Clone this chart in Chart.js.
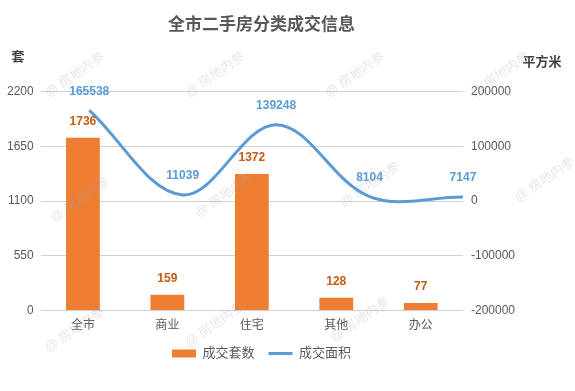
<!DOCTYPE html>
<html>
<head>
<meta charset="utf-8">
<script src="https://cdn.jsdelivr.net/npm/chart.js@4"></script>
<style>
  html, body { margin: 0; padding: 0; background: #fff; }
  #wrap { width: 575px; height: 391px; position: relative; }
</style>
</head>
<body>
<div id="wrap"><canvas id="myChart" width="575" height="391"></canvas></div>
<script>
// data
const categories = ['全市', '商业', '住宅', '其他', '办公'];
const unitsSold = [1736, 159, 1372, 128, 77];        // 成交套数 (套)
const areaSold = [165538, 11039, 139248, 8104, 7147]; // 成交面积 (平方米)
const leftTicks = [0, 550, 1100, 1650, 2200];
const rightTicks = [-200000, -100000, 0, 100000, 200000];

const ORANGE = '#ED7D31';
const BLUE = '#5B9BD5';
const GREY = '#595959';
const FONT = '"Liberation Sans", "Noto Sans CJK SC", sans-serif';

// labels above bars / points, axis unit titles, watermark
const extras = {
  id: 'extras',
  afterDatasetsDraw(chart) {
    const c = chart.ctx;
    c.save();
    c.textAlign = 'center';
    c.textBaseline = 'middle';
    c.font = 'bold 12px ' + FONT;
    c.fillStyle = '#C55A11';
    chart.getDatasetMeta(0).data.forEach((bar, i) => {
      c.fillText(String(unitsSold[i]), bar.x, bar.y - 16);
    });
    c.fillStyle = BLUE;
    chart.getDatasetMeta(1).data.forEach((pt, i) => {
      c.fillText(String(areaSold[i]), pt.x, pt.y - 19);
    });
    c.restore();
  },
  afterDraw(chart) {
    const c = chart.ctx;
    c.save();
    c.fillStyle = '#404040';
    c.font = 'bold 13px ' + FONT;
    c.textBaseline = 'middle';
    c.textAlign = 'center';
    c.fillText('套', 18, 57);
    c.fillText('平方米', 542, 62);

    // faint watermark
    c.font = '13px ' + FONT;
    c.fillStyle = 'rgba(170,170,170,0.3)';
    const marks = [[75, 75], [215, 75], [355, 75], [500, 75],
                   [80, 200], [225, 195], [370, 185], [545, 180],
                   [75, 330], [215, 325], [360, 320]];
    marks.forEach(([x, y]) => {
      c.save();
      c.translate(x, y);
      c.rotate(-0.6);
      c.fillText('@ 房地内参', 0, 0);
      c.restore();
    });
    c.restore();
  }
};

const ctx = document.getElementById('myChart').getContext('2d');

const chart = new Chart(ctx, {
  data: {
    labels: categories,
    datasets: [
      {
        type: 'bar',
        label: '成交套数',
        data: unitsSold,
        backgroundColor: ORANGE,
        xAxisID: 'x',
        yAxisID: 'y',
        grouped: false,
        categoryPercentage: 0.8,
        barPercentage: 0.5,
        order: 1
      },
      {
        type: 'line',
        label: '成交面积',
        // line sits on its own (hidden) horizontal axis, points on the ticks
        data: areaSold.map((v, i) => ({ x: i, y: v })),
        borderColor: BLUE,
        borderWidth: 3,
        pointRadius: 0,
        tension: 0.36,
        fill: false,
        clip: false,
        xAxisID: 'x2',
        yAxisID: 'y1',
        order: 0
      }
    ]
  },
  options: {
    responsive: false,
    animation: false,
    layout: { padding: { left: 0, right: 52, top: 0, bottom: 21 } },
    plugins: {
      title: {
        display: true,
        text: '全市二手房分类成交信息',
        color: GREY,
        font: { family: FONT, size: 17, weight: 'bold' },
        padding: { top: 15, bottom: 56 }
      },
      legend: {
        position: 'bottom',
        labels: {
          color: GREY,
          font: { family: FONT, size: 13 },
          usePointStyle: true,
          pointStyleWidth: 24,
          boxWidth: 24,
          boxHeight: 8,
          padding: 14,
          generateLabels: () => [
            { text: '成交套数', fillStyle: ORANGE, strokeStyle: ORANGE, lineWidth: 0,
              pointStyle: 'rect', datasetIndex: 0, hidden: false, fontColor: GREY },
            { text: '成交面积', fillStyle: BLUE, strokeStyle: BLUE, lineWidth: 3,
              pointStyle: 'line', datasetIndex: 1, hidden: false, fontColor: GREY }
          ]
        }
      },
      tooltip: { enabled: false }
    },
    scales: {
      x: {
        type: 'category',
        grid: { display: false },
        border: { display: false },
        ticks: { color: GREY, font: { family: FONT, size: 12 }, padding: 0 }
      },
      x2: {
        type: 'linear',
        display: false,
        min: -0.52,
        max: categories.length - 1
      },
      y: {
        position: 'left',
        min: leftTicks[0],
        max: leftTicks[leftTicks.length - 1],
        afterBuildTicks: (axis) => { axis.ticks = leftTicks.map(v => ({ value: v })); },
        grid: { color: '#D0D0D0', drawTicks: false },
        border: { display: false },
        ticks: { color: GREY, font: { family: FONT, size: 12 }, padding: 7, callback: v => String(v) }
      },
      y1: {
        position: 'right',
        min: rightTicks[0],
        max: rightTicks[rightTicks.length - 1],
        afterBuildTicks: (axis) => { axis.ticks = rightTicks.map(v => ({ value: v })); },
        grid: { drawOnChartArea: false, drawTicks: false },
        border: { display: false },
        ticks: { color: GREY, font: { family: FONT, size: 12 }, padding: 8, callback: v => String(v) }
      }
    }
  },
  plugins: [extras]
});
</script>
</body>
</html>
